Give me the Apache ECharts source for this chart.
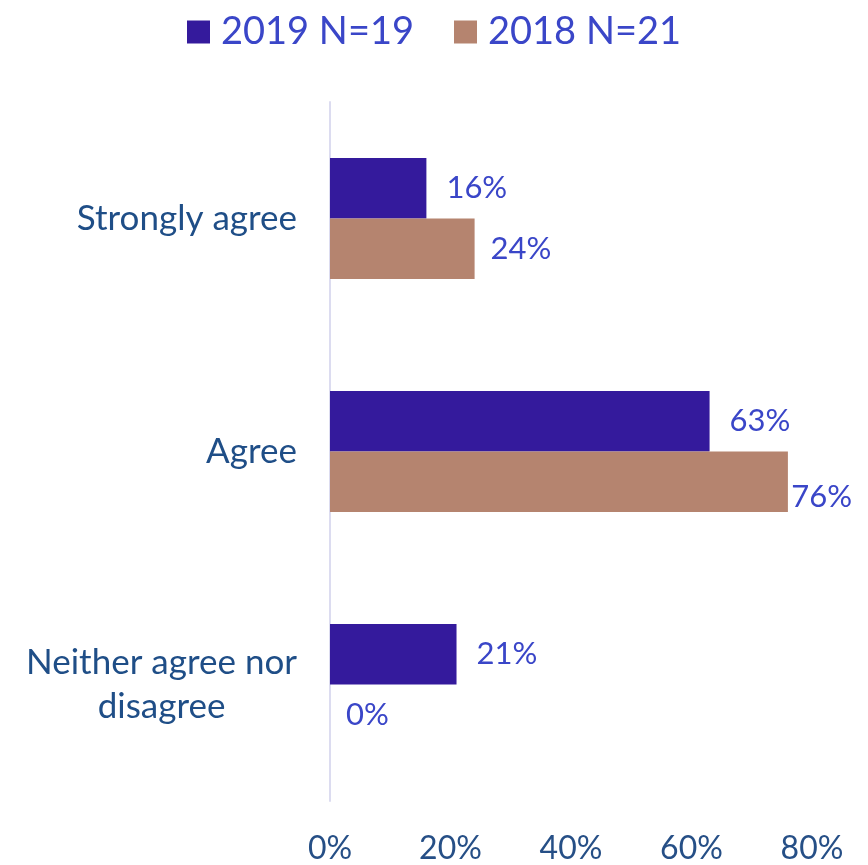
<!DOCTYPE html>
<html><head><meta charset="utf-8">
<script src="https://cdn.jsdelivr.net/npm/echarts@6/dist/echarts.min.js"></script>
<style>html,body{margin:0;padding:0;background:#fff}#c{width:868px;height:865px}</style>
</head><body><div id="c"></div>
<script>
const categories = ['Strongly agree', 'Agree', 'Neither agree nor\ndisagree'];
const seriesNames = ['2019 N=19', '2018 N=21'];
const values2019 = [16, 63, 21];
const values2018 = [24, 76, 0];
const xTicks = [0, 20, 40, 60, 80];

const FONT = 'Lato';
const chart = echarts.init(document.getElementById('c'), null, {renderer: 'canvas'});
chart.setOption({
  animation: false,
  textStyle: {fontFamily: FONT},
  legend: {
    top: 8, left: 'center',
    itemWidth: 23, itemHeight: 23, itemGap: 40,
    icon: 'rect',
    textStyle: {fontSize: 38, color: '#3a46c8', fontFamily: FONT, padding: [0, 0, 0, 6]},
    data: seriesNames
  },
  grid: {left: 330, right: 56, top: 102, bottom: 62, containLabel: false},
  xAxis: {
    type: 'value', min: xTicks[0], max: xTicks[xTicks.length-1], interval: 20,
    axisLine: {show: false}, axisTick: {show: false}, splitLine: {show: false},
    axisLabel: {formatter: '{value}%', fontSize: 32, color: '#264f86', margin: 32, fontFamily: FONT}
  },
  yAxis: {
    type: 'category', inverse: true, data: categories,
    axisLine: {show: true, lineStyle: {color: '#dcdcf0', width: 2}},
    axisTick: {show: false},
    axisLabel: {
      fontSize: 35, color: '#1f4e87', margin: 33, lineHeight: 44, fontFamily: FONT,
      formatter: v => '{c|' + v + '}',
      rich: {c: {align: 'center', fontSize: 35, color: '#1f4e87', lineHeight: 44, fontFamily: FONT}}
    }
  },
  labelLayout: function (p) {
    const r = p.labelRect;
    if (r.x + r.width > 852) return {x: 852 - r.width};
    return {};
  },
  series: [
    {name: seriesNames[0], type: 'bar', data: values2019, barGap: '0%', barCategoryGap: '48%',
     itemStyle: {color: '#341a9c'},
     label: {show: true, position: 'right', distance: 20, formatter: '{c}%', fontSize: 31, color: '#3a46c8', fontFamily: FONT}},
    {name: seriesNames[1], type: 'bar', data: values2018, barGap: '0%', barCategoryGap: '48%',
     itemStyle: {color: '#b5846f'},
     label: {show: true, position: 'right', distance: 16, formatter: '{c}%', fontSize: 31, color: '#3a46c8', fontFamily: FONT}}
  ]
});
</script></body></html>
